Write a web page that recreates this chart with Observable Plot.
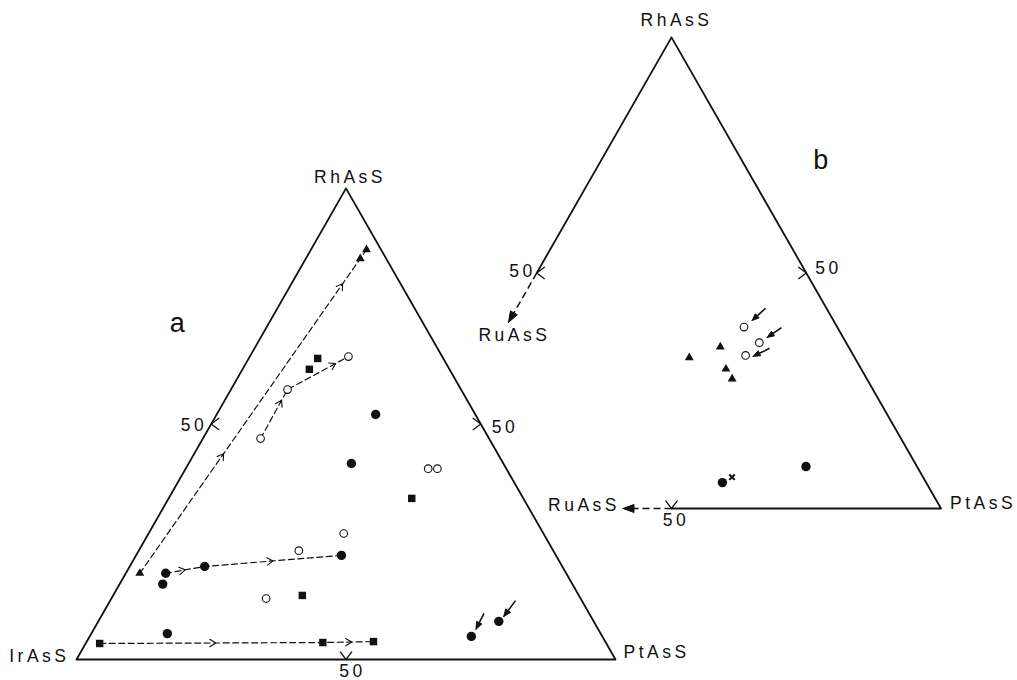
<!DOCTYPE html>
<html><head><meta charset="utf-8">
<script src="https://cdn.jsdelivr.net/npm/d3@7"></script>
<script src="https://cdn.jsdelivr.net/npm/@observablehq/plot@0.6"></script>
<style>
html,body{margin:0;padding:0;background:#fff}
#chart{width:1017px;height:680px}
</style>
</head><body><div id="chart"></div>
<script>
// ---------------- DATA (each point: [RhAsS %, PtAsS %]; remainder = IrAsS in (a), RuAsS in (b)) ----------------
const panelNames = ["a", "b"];
const vertexNamesA = ["IrAsS", "PtAsS", "RhAsS"];
const vertexNamesB = ["RuAsS", "PtAsS", "RhAsS"];
const tickValue = "50";

const aFilledCircles = [[52.0,29.5],[41.6,30.2],[22.1,38.1],[19.75,13.9],[18.3,7.4],[16.0,8.0],[5.5,14.1],[4.9,70.8],[8.1,74.3]];
const aOpenCircles   = [[64.3,18.3],[57.3,10.5],[46.9,10.7],[26.75,36.2],[23.1,29.7],[12.95,28.7],[40.5,45.0],[40.5,46.7]];
const aSquares       = [[63.9,12.8],[61.6,12.4],[34.2,45.1],[13.6,35.1],[3.4,2.6],[3.6,43.9],[3.8,53.2]];
const aTriangles     = [[87.0,10.3],[85.1,10.1],[18.3,2.6]];

// dashed trend paths in (a) and the position of their direction arrows [path, segment, fraction]
const aPaths = [
  [[18.3,2.6],[85.1,10.1],[87.0,10.3]],
  [[46.9,10.7],[57.3,10.5],[64.3,18.3]],
  [[18.3,7.4],[19.75,13.9],[22.1,38.1]],
  [[3.4,2.6],[3.6,43.9],[3.8,53.2]]
];
const aPathArrows = [[0,0,0.38],[0,0,0.92],[1,0,0.78],[1,1,0.79],[2,0,0.5],[2,1,0.5],[3,0,0.52],[3,1,0.57]];

// pointer arrows [from, to]
const aPointers = [[[9.8,70.7],[6.4,70.9]], [[12.5,75.2],[9.1,74.7]]];

const bOpenCircles   = [[38.5,44.2],[35.2,48.7],[32.5,47.5]];
const bTriangles     = [[32.0,37.3],[34.3,41.9],[29.6,45.3],[27.5,47.5]];
const bFilledCircles = [[5.5,56.7],[8.9,70.5]];
const bStars         = [[6.65,57.9]];
const bPointers = [[[42.5,46.2],[39.9,45.0]], [[38.4,51.2],[36.3,49.6]], [[34.0,51.2],[32.3,49.0]]];
// truncated edges of (b) continue as arrows toward RuAsS
const bRuArrows = [[[50,0],[39.5,0]], [[0,50],[0,41]]];

// ---------------- GEOMETRY HELPERS ----------------
const KX = 539, KY = 544, S3 = Math.sqrt(3) / 2;
const origin = {a: {ox: 0, oy: 0}, b: {ox: 325.5 / KX, oy: 151 / KY}};
function P(panel, c) { const o = origin[panel]; return {x: o.ox + (c[1] + c[0] / 2) / 100, y: o.oy + c[0] / 100 * S3}; }
function off(p, dx, dy) { return {x: p.x + dx / KX, y: p.y - dy / KY}; }
function ang(p, q) { return Math.atan2(-(q.y - p.y) * KY, (q.x - p.x) * KX) * 180 / Math.PI; }
function lerp(p, q, t) { return {x: p.x + (q.x - p.x) * t, y: p.y + (q.y - p.y) * t}; }
function chevron(tip, a, len, spread) {
  const w = s => { const r = (a + 180 + s) * Math.PI / 180; return off(tip, len * Math.cos(r), len * Math.sin(r)); };
  return [w(spread), tip, w(-spread)];
}
function head(tip, a, len, hw) {
  const r = a * Math.PI / 180, c = Math.cos(r), s = Math.sin(r);
  const base = off(tip, -len * c, -len * s);
  return {base, poly: [tip, off(base, -hw * s, hw * c), off(base, hw * s, -hw * c), tip]};
}

// ---------------- BUILD MARK DATA ----------------
const edges = [];
[P("a",[0,0]), P("a",[0,100]), P("a",[100,0]), P("a",[0,0])].forEach(p => edges.push({...p, id: "ea"}));
[P("b",[0,50]), P("b",[0,100]), P("b",[100,0]), P("b",[50,0])].forEach(p => edges.push({...p, id: "eb"}));

const ticks = [];
const tickSpecs = [["a",[50,0],180],["a",[50,50],0],["a",[0,50],90],["b",[50,0],180],["b",[50,50],0],["b",[0,50],90]];
tickSpecs.forEach(([pn, c, a], i) => chevron(P(pn, c), a, 9.5, 37).forEach(p => ticks.push({...p, id: "t" + i})));

const dashed = [];
aPaths.forEach((path, i) => path.forEach(c => dashed.push({...P("a", c), id: "p" + i})));

const chevs = [];
aPathArrows.forEach(([pi, si, t], i) => {
  const p = P("a", aPaths[pi][si]), q = P("a", aPaths[pi][si + 1]);
  chevron(lerp(p, q, t), ang(p, q), 7, 32).forEach(pt => chevs.push({...pt, id: "c" + i}));
});

const heads = [], shafts = [], dashShafts = [];
function pointer(panel, from, to, len, hw, dash, key) {
  const p = P(panel, from), q = P(panel, to);
  const h = head(q, ang(p, q), len, hw);
  h.poly.forEach(pt => heads.push({...pt, id: key}));
  (dash ? dashShafts : shafts).push({x1: p.x, y1: p.y, x2: h.base.x, y2: h.base.y});
}
aPointers.forEach(([f, t], i) => pointer("a", f, t, 7.5, 3, false, "ha" + i));
bPointers.forEach(([f, t], i) => pointer("b", f, t, 7, 2.8, false, "hb" + i));
bRuArrows.forEach(([f, t], i) => pointer("b", f, t, 11, 4, true, "hr" + i));

const pts = (panel, arr) => arr.map(c => P(panel, c));

// ---------------- LABELS ----------------
const labMid = [], labStart = [], labEnd = [], labBig = [];
labMid.push({...off(P("a",[100,0]), 4, -11), t: vertexNamesA[2]});
labMid.push({...off(P("b",[100,0]), 5, -17), t: vertexNamesB[2]});
labEnd.push({...off(P("a",[0,0]), -7, -3), t: vertexNamesA[0]});
labStart.push({...off(P("a",[0,100]), 8, -7), t: vertexNamesA[1]});
labStart.push({...off(P("b",[0,100]), 9, -5), t: vertexNamesB[1]});
labEnd.push({...off(P("a",[50,0]), -4, 1.5), t: tickValue});
labStart.push({...off(P("a",[50,50]), 11, 3), t: tickValue});
labMid.push({...off(P("a",[0,50]), 6.5, 12), t: tickValue});
labEnd.push({...off(P("b",[50,0]), -1, -1.5), t: tickValue});
labStart.push({...off(P("b",[50,50]), 9, -4.5), t: tickValue});
labMid.push({...off(P("b",[0,50]), 4.5, 12), t: tickValue});
labMid.push({...off(P("b",[bRuArrows[0][1][0], 0]), 6, 13), t: vertexNamesB[0]});
labEnd.push({...off(P("b",[0, bRuArrows[1][1][1]]), -3, -3), t: vertexNamesB[0]});
labBig.push({...off(P("a",[100,0]), -167, 135), t: panelNames[0]});
labBig.push({...off(P("b",[100,0]), 151, 123), t: panelNames[1]});

const font = "Liberation Sans, Arial, Helvetica, sans-serif";

const chart = Plot.plot({
  width: 1017, height: 680,
  marginTop: 0, marginRight: 0, marginBottom: 0, marginLeft: 0,
  x: {domain: [-76 / KX, 941 / KX], axis: null},
  y: {domain: [-21 / KY, 659 / KY], axis: null},
  style: {fontFamily: font, background: "#fff", color: "#000", letterSpacing: "3.5px"},
  marks: [
    Plot.line(edges, {x: "x", y: "y", z: "id", stroke: "#111", strokeWidth: 1.8}),
    Plot.line(ticks, {x: "x", y: "y", z: "id", stroke: "#111", strokeWidth: 1.3}),
    Plot.line(dashed, {x: "x", y: "y", z: "id", stroke: "#111", strokeWidth: 1.2, strokeDasharray: "6,3.5"}),
    Plot.line(chevs, {x: "x", y: "y", z: "id", stroke: "#111", strokeWidth: 1.1}),
    Plot.link(shafts, {x1: "x1", y1: "y1", x2: "x2", y2: "y2", stroke: "#111", strokeWidth: 1.6}),
    Plot.link(dashShafts, {x1: "x1", y1: "y1", x2: "x2", y2: "y2", stroke: "#111", strokeWidth: 1.5, strokeDasharray: "7,4"}),
    Plot.line(heads, {x: "x", y: "y", z: "id", fill: "#111", stroke: "#111", strokeWidth: 1}),
    Plot.dot(pts("a", aFilledCircles).concat(pts("b", bFilledCircles)), {x: "x", y: "y", r: 4.7, fill: "#111", stroke: "none"}),
    Plot.dot(pts("a", aOpenCircles).concat(pts("b", bOpenCircles)), {x: "x", y: "y", r: 3.8, fill: "#fff", stroke: "#111", strokeWidth: 1.1}),
    Plot.dot(pts("a", aSquares), {x: "x", y: "y", symbol: "square", r: 4.2, fill: "#111", stroke: "none"}),
    Plot.dot(pts("a", aTriangles).concat(pts("b", bTriangles)), {x: "x", y: "y", symbol: "triangle", r: 3.3, fill: "#111", stroke: "none"}),
    Plot.dot(pts("b", bStars), {x: "x", y: "y", symbol: "times", r: 2.6, stroke: "#111", strokeWidth: 2}),
    Plot.text(labMid, {x: "x", y: "y", text: "t", textAnchor: "middle", fontSize: 17.5, fill: "#111"}),
    Plot.text(labStart, {x: "x", y: "y", text: "t", textAnchor: "start", fontSize: 17.5, fill: "#111"}),
    Plot.text(labEnd, {x: "x", y: "y", text: "t", textAnchor: "end", fontSize: 17.5, fill: "#111"}),
    Plot.text(labBig, {x: "x", y: "y", text: "t", textAnchor: "middle", fontSize: 27, fill: "#111"})
  ]
});
document.getElementById("chart").append(chart);
</script>
</body></html>
